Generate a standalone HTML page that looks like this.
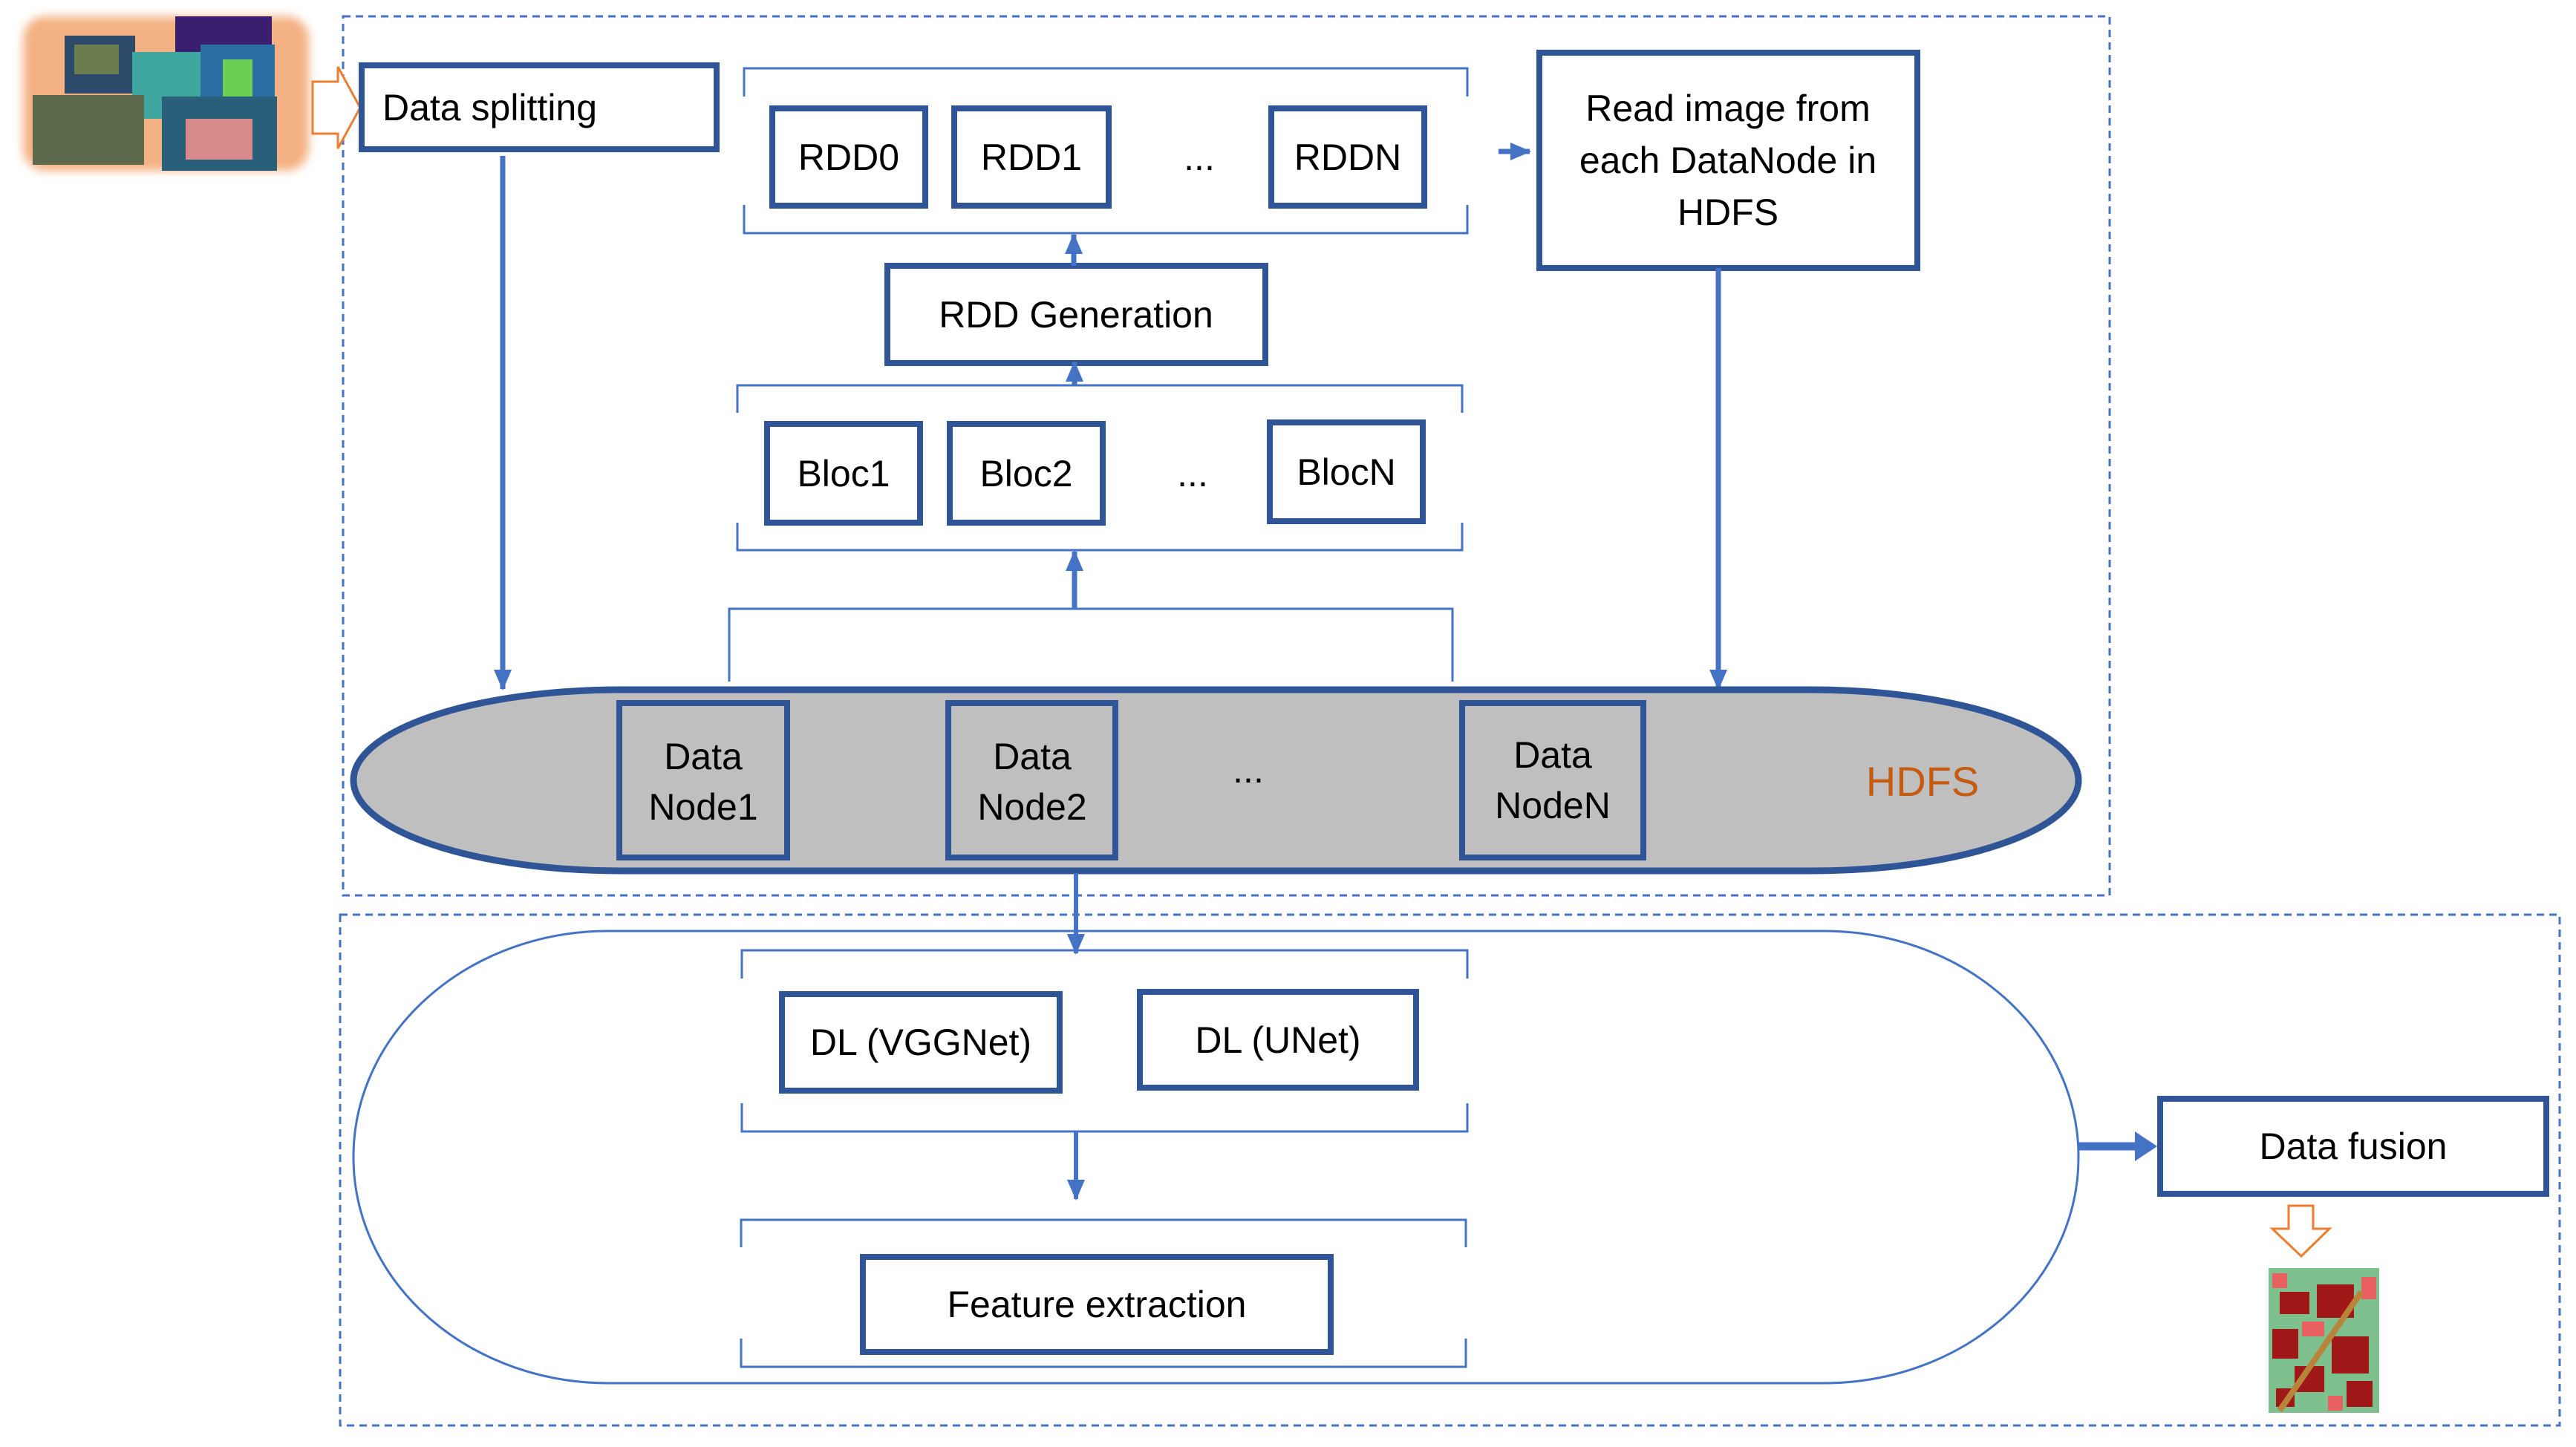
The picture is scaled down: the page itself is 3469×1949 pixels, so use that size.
<!DOCTYPE html>
<html><head><meta charset="utf-8"><style>
html,body{margin:0;padding:0;background:#fff;}
svg{display:block;}
text{font-family:"Liberation Sans",sans-serif;fill:#000;}
</style></head><body>
<svg width="3469" height="1949" viewBox="0 0 3469 1949" xmlns="http://www.w3.org/2000/svg">
<defs>
<marker id="ah" markerWidth="28" markerHeight="24" refX="26" refY="12" orient="auto" markerUnits="userSpaceOnUse">
<path d="M0,0 L28,12 L0,24 z" fill="#4472c4"/></marker>
<filter id="blur"><feGaussianBlur stdDeviation="6"/></filter>
</defs>

<rect x="462" y="22" width="2379" height="1184" fill="none" stroke="#4472c4" stroke-width="3" stroke-dasharray="10,7"/>
<rect x="458" y="1232" width="2989" height="688" fill="none" stroke="#4472c4" stroke-width="3" stroke-dasharray="10,7"/>

<rect x="31" y="22" width="385" height="208" rx="30" fill="#f4b183" filter="url(#blur)"/>
<rect x="87" y="48" width="95" height="78" fill="#2d4a6b"/>
<rect x="100" y="60" width="60" height="40" fill="#6b7d4f"/>
<rect x="236" y="22" width="130" height="100" fill="#3a1f6e"/>
<rect x="178" y="70" width="110" height="90" fill="#3fa6a0"/>
<rect x="270" y="60" width="100" height="95" fill="#2b6ea3"/>
<rect x="300" y="80" width="40" height="50" fill="#6bcf55"/>
<rect x="44" y="128" width="150" height="94" fill="#5d6b4c"/>
<rect x="218" y="130" width="155" height="100" fill="#2a5f7a"/>
<rect x="250" y="160" width="90" height="55" fill="#d88a8a"/>

<path d="M421,110 L455,110 L455,90 L485,145 L455,200 L455,180 L421,180 z" fill="#fff" stroke="#ed7d31" stroke-width="3"/>

<rect x="487" y="88" width="478" height="113" fill="#fff" stroke="#2f5597" stroke-width="8"/>
<text x="515" y="162" font-size="50">Data splitting</text>

<g fill="none" stroke="#4472c4" stroke-width="3">
<path d="M1002,130 V92 H1976 V130"/><path d="M1002,276 V314 H1976 V276"/>
<path d="M993,556 V519 H1969 V556"/><path d="M993,704 V741 H1969 V704"/>
<path d="M982,918 V820 H1956 V918"/>
<path d="M999,1318 V1280 H1976 V1318"/><path d="M999,1486 V1524 H1976 V1486"/>
<path d="M998,1680 V1643 H1974 V1680"/><path d="M998,1803 V1841 H1974 V1803"/>
</g>

<g fill="#fff" stroke="#2f5597" stroke-width="8">
<rect x="1040" y="146" width="206" height="131"/>
<rect x="1285" y="146" width="208" height="131"/>
<rect x="1712" y="146" width="206" height="131"/>
<rect x="2073" y="71" width="509" height="290"/>
<rect x="1195" y="358" width="509" height="131"/>
<rect x="1033" y="571" width="206" height="133"/>
<rect x="1279" y="571" width="206" height="133"/>
<rect x="1710" y="569" width="206" height="133"/>
</g>
<g font-size="50" text-anchor="middle">
<text x="1143" y="229">RDD0</text>
<text x="1389" y="229">RDD1</text>
<text x="1615" y="229">...</text>
<text x="1815" y="229">RDDN</text>
<text x="2327" y="163">Read image from</text>
<text x="2327" y="233">each DataNode in</text>
<text x="2327" y="303">HDFS</text>
<text x="1449" y="441">RDD Generation</text>
<text x="1136" y="655">Bloc1</text>
<text x="1382" y="655">Bloc2</text>
<text x="1606" y="655">...</text>
<text x="1813" y="653">BlocN</text>
</g>

<g stroke="#4472c4" stroke-width="7" fill="none">
<line x1="677" y1="210" x2="677" y2="928" marker-end="url(#ah)"/>
<line x1="2314" y1="361" x2="2314" y2="928" marker-end="url(#ah)"/>
<line x1="2018" y1="204" x2="2060" y2="204" marker-end="url(#ah)"/>
<line x1="1446" y1="358" x2="1446" y2="316" marker-end="url(#ah)"/>
<line x1="1447" y1="518" x2="1447" y2="488" marker-end="url(#ah)"/>
<line x1="1447" y1="820" x2="1447" y2="743" marker-end="url(#ah)"/>
</g>

<rect x="476" y="929" width="2323" height="244" rx="360" ry="122" fill="#bfbfbf" stroke="#2f5597" stroke-width="9"/>
<g fill="#bfbfbf" stroke="#2f5597" stroke-width="8">
<rect x="834" y="947" width="226" height="208"/>
<rect x="1277" y="947" width="225" height="208"/>
<rect x="1969" y="947" width="244" height="208"/>
</g>
<g font-size="50" text-anchor="middle">
<text x="947" y="1036">Data</text><text x="947" y="1104">Node1</text>
<text x="1390" y="1036">Data</text><text x="1390" y="1104">Node2</text>
<text x="1681" y="1054">...</text>
<text x="2091" y="1034">Data</text><text x="2091" y="1102">NodeN</text>
</g>
<text x="2589" y="1072" font-size="56" text-anchor="middle" style="fill:#c55a11">HDFS</text>

<rect x="476" y="1254" width="2323" height="609" rx="343" ry="304" fill="none" stroke="#4472c4" stroke-width="3"/>

<g stroke="#4472c4" stroke-width="6" fill="none">
<line x1="1449" y1="1176" x2="1449" y2="1284" marker-end="url(#ah)"/>
<line x1="1449" y1="1524" x2="1449" y2="1615" marker-end="url(#ah)"/>
</g>
<line x1="2799" y1="1544" x2="2880" y2="1544" stroke="#4472c4" stroke-width="11"/>
<path d="M2875,1524 L2905,1544 L2875,1564 z" fill="#4472c4"/>

<g fill="#fff" stroke="#2f5597" stroke-width="8">
<rect x="1053" y="1339" width="374" height="130"/>
<rect x="1535" y="1336" width="372" height="129"/>
<rect x="1162" y="1693" width="630" height="128"/>
<rect x="2909" y="1480" width="520" height="128"/>
</g>
<g font-size="50" text-anchor="middle">
<text x="1240" y="1421">DL (VGGNet)</text>
<text x="1721" y="1418">DL (UNet)</text>
<text x="1477" y="1774">Feature extraction</text>
<text x="3169" y="1561">Data fusion</text>
</g>

<path d="M3082,1624 L3115,1624 L3115,1655 L3137,1655 L3099,1692 L3060,1655 L3082,1655 z" fill="#fff" stroke="#ed7d31" stroke-width="3"/>

<rect x="3055" y="1708" width="149" height="195" fill="#7fc08f"/>
<g fill="#a01818">
<rect x="3070" y="1740" width="40" height="30"/><rect x="3120" y="1730" width="50" height="45"/>
<rect x="3060" y="1790" width="35" height="40"/><rect x="3140" y="1800" width="50" height="50"/>
<rect x="3090" y="1840" width="40" height="35"/><rect x="3160" y="1860" width="35" height="35"/>
<rect x="3065" y="1870" width="25" height="25"/>
</g>
<g fill="#e86060">
<rect x="3100" y="1780" width="30" height="20"/><rect x="3180" y="1720" width="20" height="30"/>
<rect x="3060" y="1715" width="20" height="20"/><rect x="3135" y="1880" width="20" height="20"/>
</g>
<path d="M3070,1900 L3180,1740" stroke="#b7843a" stroke-width="8"/>
</svg>
</body></html>
